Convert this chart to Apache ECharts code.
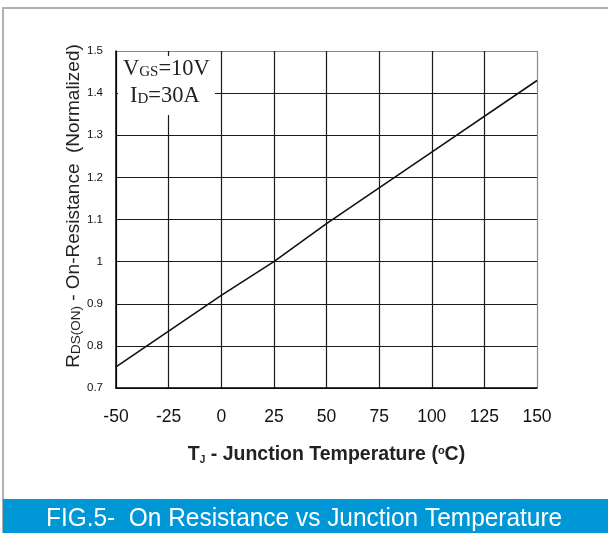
<!DOCTYPE html>
<html><head><meta charset="utf-8">
<script src="https://cdn.jsdelivr.net/npm/echarts@6/dist/echarts.min.js"></script>
<style>html,body{margin:0;padding:0;background:#fff}#c{width:608px;height:533px}</style>
</head><body><div id="c"></div>
<script>
const temps = [-50, 0, 25, 50, 100, 150];
const rdsNorm = [0.75, 0.92, 1.0, 1.09, 1.26, 1.43];
const xTicks = [-50, -25, 0, 25, 50, 75, 100, 125, 150];
const yTicks = [0.7, 0.8, 0.9, 1.0, 1.1, 1.2, 1.3, 1.4, 1.5];
const title = 'FIG.5-  On Resistance vs Junction Temperature';

const chart = echarts.init(document.getElementById('c'));
const gridCol = (n) => { const a = []; for (let i = 0; i < n; i++) a.push(i === n - 1 ? '#8a8a8a' : '#1a1a1a'); return a; };
const sans = 'Liberation Sans, Arial';
const serif = 'Liberation Serif, Times New Roman';
chart.setOption({
  animation: false,
  grid: { left: 116, right: 71, top: 51, bottom: 145 },
  xAxis: {
    type: 'value', min: -50, max: 150, interval: 25,
    axisLine: { onZero: false, lineStyle: { color: '#000', width: 1.5 } },
    axisTick: { show: false },
    axisLabel: { color: '#111', fontSize: 17.5, fontFamily: sans, margin: 20 },
    splitLine: { show: true, lineStyle: { color: gridCol(xTicks.length), width: 1.2 } },
    name: '{t|T}{s|J}{t| - Junction Temperature (}{o|o}{t|C)}',
    nameLocation: 'middle', nameGap: 57,
    nameTextStyle: {
      rich: {
        t: { fontSize: 19.5, fontWeight: 'bold', color: '#222', fontFamily: sans },
        s: { fontSize: 10, fontWeight: 'bold', color: '#222', fontFamily: sans, verticalAlign: 'bottom' },
        o: { fontSize: 11, fontWeight: 'bold', color: '#222', fontFamily: sans, verticalAlign: 'top' }
      }
    }
  },
  yAxis: {
    type: 'value', min: 0.7, max: 1.5, interval: 0.1,
    axisLine: { show: true, onZero: false, lineStyle: { color: '#000', width: 1.5 } },
    axisTick: { show: false },
    axisLabel: { color: '#111', fontSize: 11.5, fontFamily: sans, margin: 13,
      formatter: v => (Math.round(v * 10) / 10).toString() },
    splitLine: { show: true, lineStyle: { color: gridCol(yTicks.length), width: 1.2 } }
  },
  series: [{
    type: 'line', data: temps.map((t, i) => [t, rdsNorm[i]]),
    showSymbol: false, lineStyle: { color: '#111', width: 1.6 }, z: 5
  }],
  graphic: [
    { type: 'rect', shape: { x: 3, y: 8, width: 620, height: 600 }, style: { fill: 'none', stroke: '#b0b0b0', lineWidth: 2 }, z: 0 },
    { type: 'group', x: 74, y: 206, rotation: Math.PI / 2, z: 11, children: [
      { type: 'text', x: 0, y: 0,
        style: { text: '{r|R}{s|DS(ON)}{r| - On-Resistance  (Normalized)}', align: 'center', verticalAlign: 'middle',
          rich: {
            r: { fontSize: 19, fill: '#222', fontFamily: sans, verticalAlign: 'bottom' },
            s: { fontSize: 13.5, fill: '#222', fontFamily: sans, verticalAlign: 'bottom' }
          } } }
    ] },
    { type: 'rect', shape: { x: 118, y: 56, width: 97, height: 59 }, style: { fill: '#fff' }, z: 10 },
    { type: 'text', left: 123, top: 58, z: 11,
      style: { text: '{b|V}{s|GS}{b|=10V}', fill: '#222',
        rich: { b: { fontSize: 22.5, fontFamily: serif, fill: '#222', verticalAlign: 'bottom' },
                s: { fontSize: 15, fontFamily: serif, fill: '#222', verticalAlign: 'bottom', padding: [0, 0, 1, 0] } } } },
    { type: 'text', left: 130, top: 85, z: 11,
      style: { text: '{b|I}{s|D}{b|=30A}', fill: '#222',
        rich: { b: { fontSize: 22.5, fontFamily: serif, fill: '#222', verticalAlign: 'bottom' },
                s: { fontSize: 15, fontFamily: serif, fill: '#222', verticalAlign: 'bottom', padding: [0, 0, 1, 0] } } } },
    { type: 'rect', shape: { x: 3, y: 499, width: 610, height: 40 }, style: { fill: '#0097d7' }, z: 12 },
    { type: 'group', x: 46, y: 506, scaleX: 0.94, z: 13, children: [
      { type: 'text', x: 0, y: 0, z: 13,
        style: { text: title, fill: '#fff', fontSize: 26, fontFamily: sans } }
    ] }
  ]
});
</script></body></html>
